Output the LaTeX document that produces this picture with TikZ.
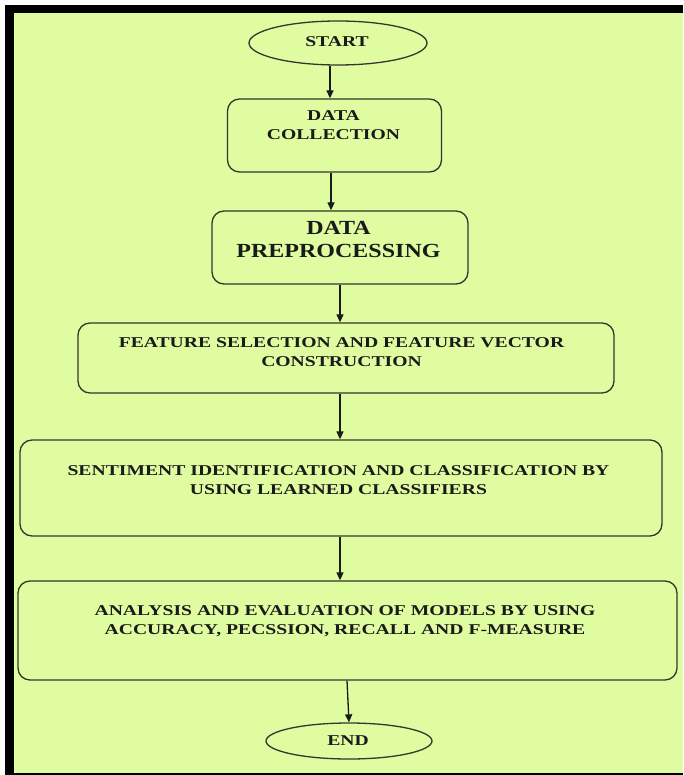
\documentclass[tikz,border=0pt]{standalone}
\usepackage{fontspec}
\setmainfont{Liberation Serif}
\usepackage{graphicx}
\usetikzlibrary{arrows.meta,shapes.geometric}
\definecolor{bgfill}{HTML}{DFFCA1}
\definecolor{edge}{HTML}{35362C}
\definecolor{ink}{HTML}{1A1A1A}
\newcommand\sx[1]{\scalebox{1.31}[1]{#1}}
\newcommand\sxl[1]{\scalebox{1.2}[1]{#1}}
\begin{document}
\begin{tikzpicture}[x=1pt,y=-1pt,
  box/.style={draw=edge,line width=1.3pt,rounded corners=12pt,fill=bgfill,inner sep=0pt},
  oval/.style={draw=edge,line width=1.3pt,ellipse,fill=bgfill,inner sep=0pt},
  lbl/.style={text=ink,align=center,font=\fontsize{15}{19}\selectfont\bfseries,inner sep=0pt},
  lblbig/.style={text=ink,align=center,font=\fontsize{20}{23}\selectfont\bfseries,inner sep=0pt},
  arr/.style={draw=ink,line width=1.3pt,-{Triangle[length=8pt,width=7pt]}}]
\useasboundingbox (0,0) rectangle (683,775);
\fill[white] (0,0) rectangle (683,775);
% frame
\fill[black] (5,5) rectangle (683,775);
\fill[bgfill] (14,13) rectangle (683,773);
% nodes
\node[oval,minimum width=178pt,minimum height=44pt] (start) at (338,43) {};
\node[box,minimum width=214pt,minimum height=73pt] (dc) at (334.5,135.5) {};
\node[box,minimum width=256pt,minimum height=73pt] (dp) at (340,247.5) {};
\node[box,minimum width=536pt,minimum height=70pt] (fs) at (346,358) {};
\node[box,minimum width=642pt,minimum height=96pt] (si) at (341,488) {};
\node[box,minimum width=659pt,minimum height=99pt] (an) at (347.5,630.5) {};
\node[oval,minimum width=166pt,minimum height=36pt] (end) at (349,741) {};
% texts
\node[lbl] (tstart) at (337,42) {\sx{START}};
\node[lbl] (tdc) at (333.5,125) {\sx{DATA}\\\sx{COLLECTION}};
\node[lblbig] (tdp) at (338.5,239.5) {\sxl{DATA}\\\sxl{PREPROCESSING}};
\node[lbl] (tfs) at (341.5,352) {\sx{FEATURE SELECTION AND FEATURE VECTOR}\\\sx{CONSTRUCTION}};
\node[lbl] (tsi) at (338.5,480) {\sx{SENTIMENT IDENTIFICATION AND CLASSIFICATION BY}\\\sx{USING LEARNED CLASSIFIERS}};
\node[lbl] (tan) at (345,621.5) {\sx{ANALYSIS AND EVALUATION OF MODELS BY USING}\\\sx{ACCURACY, PECSSION, RECALL AND F-MEASURE}};
\node[lbl] (tend) at (348,741) {\sx{END}};
% connectors
\draw[arr] ([xshift=-8pt]start.south) -- ([xshift=-4.5pt]dc.north);
\draw[arr] ([xshift=-3.5pt]dc.south) -- ([xshift=-9pt]dp.north);
\draw[arr] (dp.south) -- ([xshift=-6pt]fs.north);
\draw[arr] ([xshift=-6pt]fs.south) -- ([xshift=-1pt]si.north);
\draw[arr] ([xshift=-1pt]si.south) -- ([xshift=-7.5pt]an.north);
\draw[arr] ([xshift=-0.5pt]an.south) -- (end.north);
\end{tikzpicture}
\end{document}
